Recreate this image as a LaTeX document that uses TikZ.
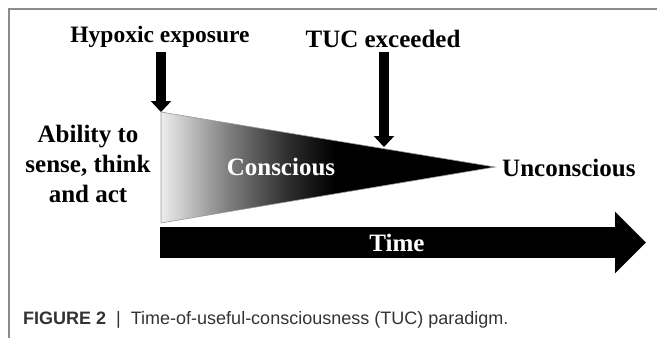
\documentclass[tikz,border=0pt]{standalone}
\usepackage{fontspec}
\setmainfont{Liberation Serif}
\newfontfamily\capfont{Liberation Sans}
\usetikzlibrary{arrows.meta,positioning}

\pgfdeclarehorizontalshading{consc}{100bp}{color(0bp)=(white!93!black); color(25bp)=(white!93!black); color(35bp)=(black!50); color(44bp)=(black!82); color(51bp)=(black); color(100bp)=(black)}

\begin{document}
\begin{tikzpicture}[
  x=1pt,y=-1pt,
  every node/.style={inner sep=0pt,align=center},
  lbl/.style={font=\fontsize{25}{30}\selectfont\bfseries},
  downarr/.style={-{Triangle[width=20pt,length=11pt]},line width=9.5pt,shorten <=5pt},
  timearr/.style={-{Triangle[width=60pt,length=31pt]},line width=31pt}
]
\useasboundingbox (0,0) rectangle (657,338);

% frame (top and left only)
\draw[black!45,line width=1.2pt] (9,338) -- (9,9) -- (657,9);

% ============================================================
% TRIANGLE: conscious -> unconscious
% ============================================================

\coordinate (tl) at (161,112);
\coordinate (bl) at (161,223);
\coordinate (apex) at (495,167);

\shade[shading=consc,draw=black!40,line width=0.6pt] (tl) -- (apex) -- (bl) -- cycle;

\node[lbl,text=white,anchor=base] (Con) at (281,175) {Conscious};
\node[lbl,anchor=base west] (Uncon) at (502,176) {Unconscious};
\node[lbl] (Abl) at (88,164) {Ability to\\sense, think\\and act};

% ============================================================
% EVENTS (top)
% ============================================================

\node[font=\fontsize{23.5}{28}\selectfont\bfseries,anchor=base] (HE) at (160,42) {Hypoxic exposure};
\node[lbl,anchor=base] (TUC) at (383,47) {TUC exceeded};
\coordinate (hit) at (384,147);

\draw[downarr] (HE.south -| tl) -- (tl);
\draw[downarr] (TUC.south -| hit) -- (hit);

% ============================================================
% TIME AXIS
% ============================================================

\coordinate (t0) at (160,242.5);
\coordinate (t1) at (646,242.5);
\draw[timearr] (t0) -- (t1);
\node[lbl,text=white] (Time) at (397,243) {Time};

% caption
\node[font=\capfont\fontsize{18}{22}\selectfont,text=black!80,anchor=base west] (Cap) at (23,324)
  {\textbf{FIGURE 2}\; | \;Time-of-useful-consciousness (TUC) paradigm.};

\end{tikzpicture}
\end{document}
